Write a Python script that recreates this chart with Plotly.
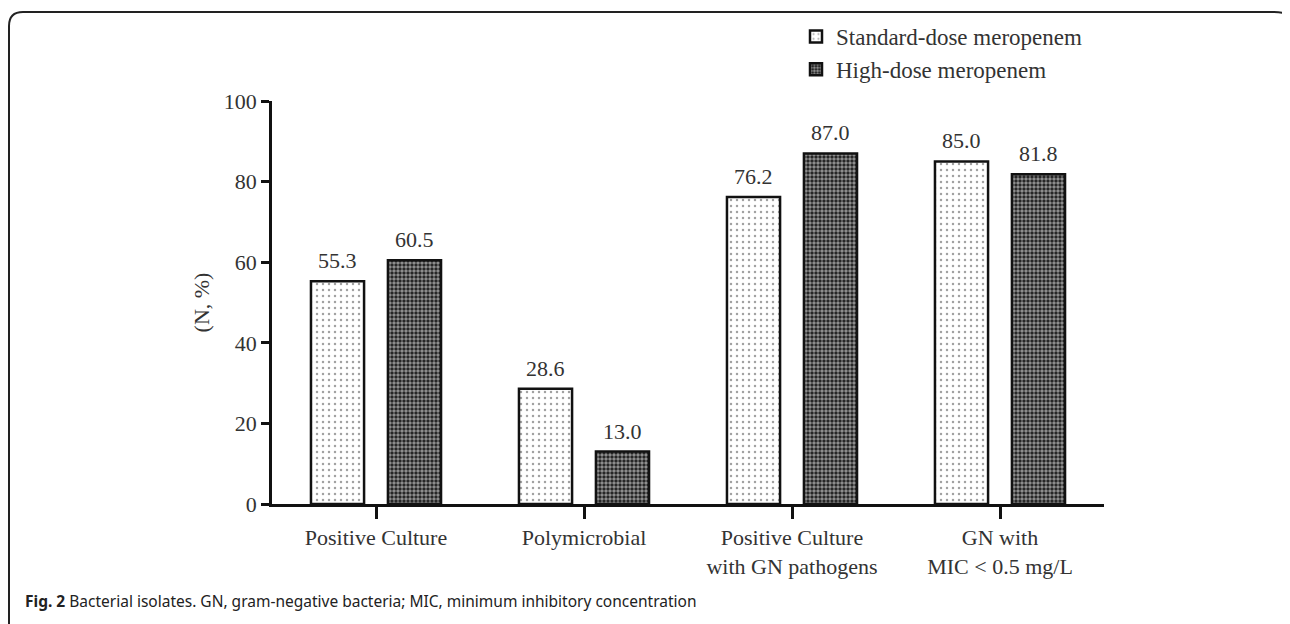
import plotly.graph_objects as go

categories = ["Positive Culture", "Polymicrobial", "Positive Culture<br>with GN pathogens", "GN with<br>MIC < 0.5 mg/L"]
standard_dose = [55.3, 28.6, 76.2, 85.0]
high_dose = [60.5, 13.0, 87.0, 81.8]
series_names = ["Standard-dose meropenem", "High-dose meropenem"]
y_ticks = [0, 20, 40, 60, 80, 100]

W, H = 1290, 624
OFF = 8  # page body margin offset
L, R, T, B = 272 - OFF, 186 + OFF, 101 - OFF, 120 + OFF
pw, ph = W - L - R, H - T - B

def px(x):
    return (x - OFF - L) / pw

def py(y):
    return (H - B - (y - OFF)) / ph

serif = "Liberation Serif, Times New Roman, serif"
txt = "#333333"
FS = 22

fig = go.Figure()
fig.add_trace(go.Bar(
    x=categories, y=standard_dose, name=series_names[0], legendgroup="a",
    marker=dict(color="white", line=dict(color="#111111", width=2.5),
                pattern=dict(shape=".", fgcolor="#444444", bgcolor="white", size=6, solidity=0.14)),
    cliponaxis=False,
))
fig.add_trace(go.Bar(
    x=categories, y=high_dose, name=series_names[1], legendgroup="b",
    marker=dict(color="#222222", line=dict(color="#111111", width=2.5),
                pattern=dict(shape=".", fgcolor="white", bgcolor="#1a1a1a", size=4, solidity=0.6)),
    cliponaxis=False,
))

annots = []
for cat, v in zip(categories, standard_dose):
    annots.append(dict(x=cat, y=v, xref="x", yref="y", text=f"{v:.1f}", showarrow=False,
                       xanchor="center", yanchor="bottom", xshift=-38.5, yshift=6,
                       font=dict(family=serif, size=FS, color=txt)))
for cat, v in zip(categories, high_dose):
    annots.append(dict(x=cat, y=v, xref="x", yref="y", text=f"{v:.1f}", showarrow=False,
                       xanchor="center", yanchor="bottom", xshift=38.5, yshift=6,
                       font=dict(family=serif, size=FS, color=txt)))
annots.append(dict(xref="paper", yref="paper", x=px(23), y=py(601), xanchor="left", yanchor="middle",
                   showarrow=False,
                   text="<b>Fig. 2</b> Bacterial isolates. GN, gram-negative bacteria; MIC, minimum inhibitory concentration",
                   font=dict(family="Noto Sans, Open Sans, sans-serif", size=15.5, color="#222222")))

r = 14
x0, x1 = px(9), px(1288)
yt, yb = py(12), py(640)
path = (f"M {x0} {yb} L {x0} {py(12 + r)} Q {x0} {yt} {px(9 + r)} {yt} "
        f"L {px(1288 - r)} {yt} Q {x1} {yt} {x1} {py(12 + 6)}")

fig.update_layout(
    width=W, height=H,
    margin=dict(l=L, r=R, t=T, b=B, autoexpand=False),
    paper_bgcolor="white", plot_bgcolor="white",
    barmode="group", bargap=0.26, bargroupgap=0.31,
    font=dict(family=serif, size=FS, color=txt),
    showlegend=True,
    legend=dict(x=px(796), y=py(15), xanchor="left", yanchor="top",
                font=dict(family=serif, size=23, color=txt),
                bgcolor="rgba(0,0,0,0)", tracegroupgap=0),
    xaxis=dict(range=[-0.5, 3.5], showline=True, linecolor="#111111", linewidth=2.5,
               ticks="outside", ticklen=12, tickwidth=2.5, tickcolor="#111111",
               showgrid=False, zeroline=False, automargin=False,
               tickfont=dict(family=serif, size=FS, color=txt)),
    yaxis=dict(range=[0, 100], tickvals=y_ticks, showline=True, linecolor="#111111", linewidth=2.5,
               ticks="outside", ticklen=8, tickwidth=2.5, tickcolor="#111111",
               showgrid=False, zeroline=False, automargin=False,
               title=dict(text="(N, %)", font=dict(family=serif, size=FS, color=txt), standoff=9),
               tickfont=dict(family=serif, size=FS, color=txt)),
    shapes=[dict(type="path", xref="paper", yref="paper", path=path,
                 line=dict(color="#222222", width=2))],
    annotations=annots,
)

fig.write_html("out.html")
